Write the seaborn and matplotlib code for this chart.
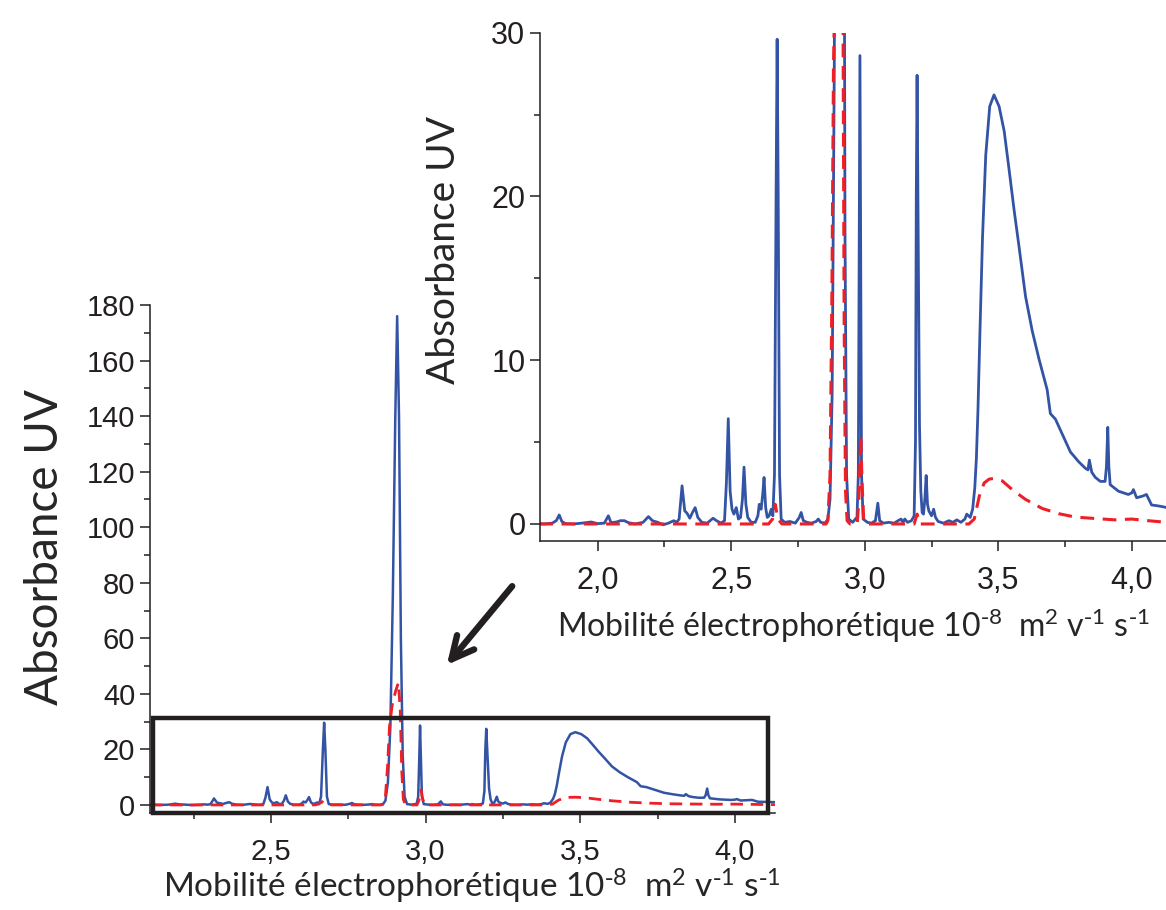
import matplotlib
matplotlib.use("Agg")
import matplotlib.pyplot as plt
from matplotlib.patches import Rectangle, FancyArrowPatch
from matplotlib.ticker import MultipleLocator
import seaborn as sns
import pandas as pd

# ============================
# Données lues sur l'électrophorégramme
# ============================
mob_bleu = [1.781, 1.800, 1.830, 1.845, 1.856, 1.866, 1.880, 1.910, 1.940, 1.976,
            2.000, 2.025, 2.040, 2.050, 2.070, 2.085, 2.100, 2.115, 2.140, 2.170,
            2.190, 2.205, 2.225, 2.245, 2.265, 2.285, 2.296, 2.305, 2.316, 2.326,
            2.335, 2.345, 2.355, 2.365, 2.375, 2.390, 2.410, 2.425, 2.432, 2.445,
            2.462, 2.475, 2.482, 2.489, 2.496, 2.503, 2.510, 2.519, 2.527, 2.535,
            2.542, 2.548, 2.555, 2.562, 2.575, 2.590, 2.600, 2.605, 2.612, 2.618,
            2.623, 2.629, 2.635, 2.642, 2.650, 2.656, 2.662, 2.668, 2.672, 2.676,
            2.681, 2.687, 2.700, 2.720, 2.740, 2.755, 2.762, 2.770, 2.784, 2.800,
            2.818, 2.826, 2.835, 2.852, 2.862, 2.870, 2.878, 2.886, 2.894, 2.902,
            2.908, 2.914, 2.920, 2.926, 2.932, 2.940, 2.955, 2.965, 2.971, 2.976,
            2.979, 2.982, 2.985, 2.988, 2.994, 3.010, 3.025, 3.040, 3.049, 3.056,
            3.070, 3.090, 3.110, 3.125, 3.136, 3.143, 3.150, 3.160, 3.175, 3.185,
            3.190, 3.193, 3.196, 3.200, 3.205, 3.210, 3.215, 3.220, 3.225, 3.230,
            3.235, 3.240, 3.250, 3.258, 3.265, 3.275, 3.295, 3.315, 3.330, 3.345,
            3.360, 3.375, 3.382, 3.395, 3.404, 3.412, 3.418, 3.424, 3.431, 3.441,
            3.453, 3.468, 3.484, 3.503, 3.522, 3.540, 3.559, 3.578, 3.602, 3.627,
            3.652, 3.683, 3.695, 3.714, 3.739, 3.770, 3.801, 3.826, 3.836, 3.841,
            3.850, 3.863, 3.882, 3.900, 3.905, 3.910, 3.914, 3.919, 3.950, 3.987,
            4.000, 4.006, 4.018, 4.040, 4.055, 4.074, 4.100, 4.117, 4.130]
abs_bleu = [0.02, 0.0, 0.05, 0.2, 0.55, 0.15, 0.02, 0.0, 0.05, 0.12,
            0.02, 0.05, 0.5, 0.08, 0.12, 0.2, 0.2, 0.08, 0.0, 0.1,
            0.45, 0.2, 0.1, -0.05, 0.05, 0.2, 0.1, 0.3, 2.33, 0.8,
            0.65, 0.35, 0.7, 1.0, 0.4, 0.1, 0.05, 0.25, 0.35, 0.2,
            0.05, 0.2, 2.5, 6.43, 2.0, 0.9, 0.6, 1.0, 0.3, 0.4,
            1.5, 3.47, 1.2, 0.4, 0.1, 0.1, 0.5, 1.2, 0.9, 1.8,
            2.84, 1.0, 0.4, 0.5, 0.9, 0.5, 3.0, 20.0, 29.6, 20.0,
            3.0, 0.3, 0.1, 0.15, 0.05, 0.4, 0.7, 0.2, 0.1, 0.05,
            0.15, 0.3, 0.1, 0.05, 0.3, 1.5, 8.0, 28.0, 75.0, 140.0,
            176.0, 140.0, 60.0, 18.0, 3.0, 0.3, 0.1, 0.3, 0.4, 3.0,
            15.0, 28.6, 15.0, 3.0, 0.3, 0.1, 0.05, 0.2, 1.27, 0.2,
            0.05, 0.1, 0.05, 0.2, 0.3, 0.1, 0.3, 0.1, 0.2, 0.5,
            5.0, 20.0, 27.4, 18.0, 6.0, 2.0, 0.7, 0.6, 1.5, 2.96,
            1.2, 0.8, 0.5, 0.9, 0.4, 0.15, 0.05, 0.2, 0.1, 0.25,
            0.1, 0.3, 0.6, 0.4, 0.9, 2.2, 4.0, 7.0, 11.5, 17.5,
            22.5, 25.5, 26.2, 25.5, 24.0, 21.7, 19.2, 16.9, 13.9, 11.8,
            10.1, 8.2, 6.74, 6.4, 5.5, 4.4, 3.8, 3.4, 3.3, 3.9,
            3.16, 2.85, 2.6, 2.6, 3.5, 5.9, 3.5, 2.4, 2.0, 1.8,
            1.9, 2.1, 1.6, 1.7, 1.8, 1.16, 1.1, 1.05, 1.0]

mob_rouge = [1.781, 2.640, 2.655, 2.665, 2.675, 2.690, 2.855, 2.862, 2.870, 2.877,
             2.883, 2.892, 2.903, 2.912, 2.918, 2.923, 2.928, 2.934, 2.945, 2.972,
             2.978, 2.985, 2.990, 2.996, 3.005, 3.185, 3.196, 3.205, 3.390, 3.410,
             3.429, 3.447, 3.466, 3.484, 3.515, 3.552, 3.602, 3.664, 3.726, 3.788,
             3.875, 3.937, 3.999, 4.061, 4.130]
abs_rouge = [0.0, 0.0, 0.3, 1.2, 0.3, 0.0, 0.0, 0.2, 3.0, 14.0,
             28.0, 36.0, 41.0, 44.0, 34.0, 12.0, 2.0, 0.2, 0.0, 0.0,
             1.5, 5.4, 2.5, 0.3, 0.0, 0.0, 0.6, 0.0, 0.0, 0.3,
             1.7, 2.5, 2.74, 2.78, 2.63, 2.1, 1.5, 0.95, 0.63, 0.42,
             0.32, 0.25, 0.3, 0.2, 0.1]

# ticks
main_xticks = [2.5, 3.0, 3.5, 4.0]
main_xlabels = ['2,5', '3,0', '3,5', '4,0']
main_yticks = [0, 20, 40, 60, 80, 100, 120, 140, 160, 180]
inset_xticks = [2.0, 2.5, 3.0, 3.5, 4.0]
inset_xlabels = ['2,0', '2,5', '3,0', '3,5', '4,0']
inset_yticks = [0, 10, 20, 30]

xlabel_txt = r'Mobilité électrophorétique 10$^{\text{-}8}$  m$^{2}$ v$^{\text{-}1}$ s$^{\text{-}1}$'
ylabel_txt = 'Absorbance UV'

df_bleu = pd.DataFrame({'mob': mob_bleu, 'abs': abs_bleu})
df_rouge = pd.DataFrame({'mob': mob_rouge, 'abs': abs_rouge})

BLEU = '#3353A5'
ROUGE = '#EE1F26'
NOIR = '#231F20'

sns.set_style('ticks')
plt.rcParams['font.family'] = ['Lato', 'DejaVu Sans']
plt.rcParams['mathtext.default'] = 'regular'
plt.rcParams['axes.edgecolor'] = NOIR
plt.rcParams['xtick.color'] = NOIR
plt.rcParams['ytick.color'] = NOIR
plt.rcParams['text.color'] = NOIR

fig = plt.figure(figsize=(11.66, 9.10), dpi=100)
ax = fig.add_axes([0.1286, 0.1066, 0.536, 0.5582])
axi = fig.add_axes([0.4631, 0.4055, 0.5369, 0.5586])


def trace(a, lw):
    sns.lineplot(data=df_bleu, x='mob', y='abs', ax=a, color=BLEU, lw=lw,
                 estimator=None, sort=False)
    sns.lineplot(data=df_rouge, x='mob', y='abs', ax=a, color=ROUGE, lw=lw + 0.2,
                 estimator=None, sort=False, linestyle=(0, (4.5, 2.8)))


def style(a, xt, xl, yt, xmin_minor, ymin_minor, tick_fs):
    a.set_facecolor('none')
    sns.despine(ax=a)
    a.set_xticks(xt)
    a.set_xticklabels(xl)
    a.set_yticks(yt)
    a.xaxis.set_minor_locator(MultipleLocator(xmin_minor))
    a.yaxis.set_minor_locator(MultipleLocator(ymin_minor))
    a.tick_params(which='major', direction='out', length=7, width=1.1)
    a.tick_params(which='minor', direction='out', length=4.5, width=1.1)
    a.tick_params(axis='x', which='major', pad=11)
    for s in ['left', 'bottom']:
        a.spines[s].set_linewidth(1.1)
    for lab in a.get_xticklabels() + a.get_yticklabels():
        lab.set_family('Liberation Sans')
        lab.set_fontsize(tick_fs)


# --- graphique principal
trace(ax, 1.8)
ax.set_xlim(2.109, 4.129)
ax.set_ylim(-2.9, 180)
style(ax, main_xticks, main_xlabels, main_yticks, 0.25, 10, 21)
ax.set_xlabel(xlabel_txt, fontsize=24)
ax.set_ylabel(ylabel_txt, fontsize=33)
ax.xaxis.set_label_coords(0.515, -0.106)
ax.yaxis.set_label_coords(-0.135, 0.524)

# cadre de la zone agrandie
box_x0, box_x1 = 2.119, 4.107
box_y0, box_y1 = -2.9, 31.3
ax.add_patch(Rectangle((box_x0, box_y0), box_x1 - box_x0, box_y1 - box_y0,
                       fill=False, lw=3.2, ec=NOIR, clip_on=False, zorder=5))

# --- encart agrandi
trace(axi, 2.0)
axi.set_xlim(1.784, 4.128)
axi.set_ylim(-1.04, 30)
style(axi, inset_xticks, inset_xlabels, inset_yticks, 0.25, 5, 22)
axi.set_xlabel(xlabel_txt, fontsize=23)
axi.set_ylabel(ylabel_txt, fontsize=28)
axi.xaxis.set_label_coords(0.5, -0.128)
axi.yaxis.set_label_coords(-0.125, 0.573)

# flèche
fig.patches.append(FancyArrowPatch(
    (0.4408, 0.3582), (0.3817, 0.2670), transform=fig.transFigure,
    arrowstyle='->', mutation_scale=40, lw=4.6, color=NOIR))

fig.savefig('out.png', dpi=100)
